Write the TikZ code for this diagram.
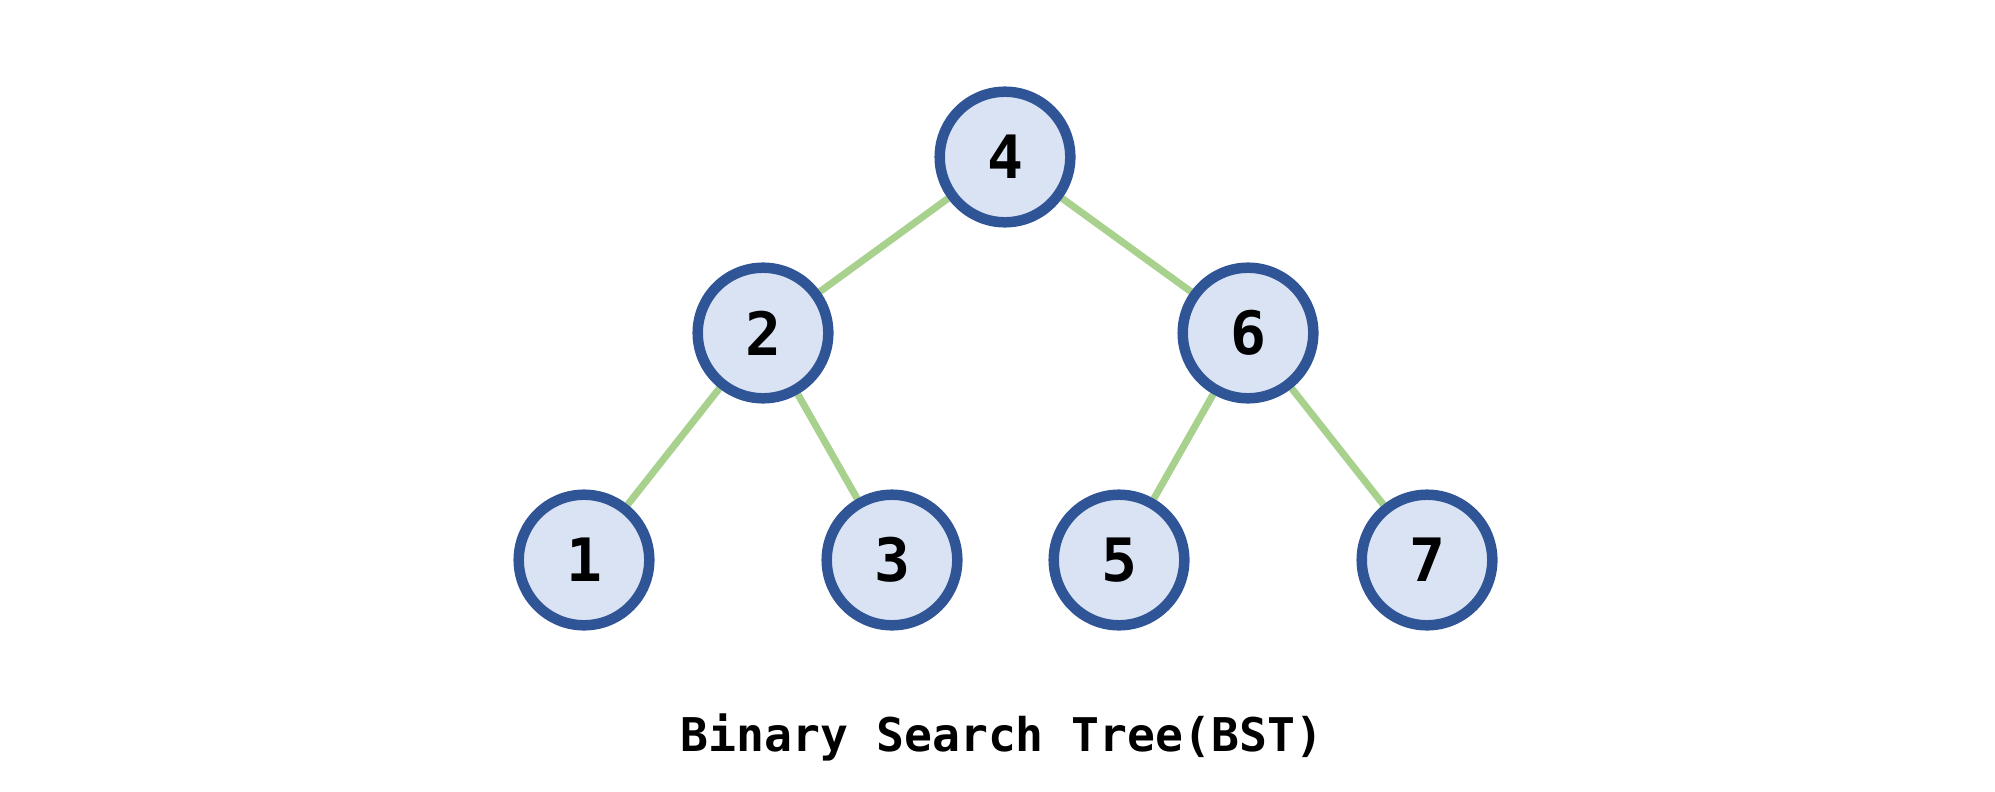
\documentclass[tikz,border=0pt]{standalone}
\usepackage{fontspec}
\setmonofont{DejaVu Sans Mono}
\usepackage{tikz}
\usetikzlibrary{positioning,backgrounds}
\definecolor{ringblue}{RGB}{47,85,151}
\definecolor{keyfill}{RGB}{218,227,243}
\definecolor{linkgreen}{RGB}{169,209,142}

\begin{document}
\begin{tikzpicture}[x=0.01cm,y=-0.01cm,
		key/.style={circle,draw=ringblue,line width=0.105cm,fill=keyfill,
				minimum size=1.305cm,inner sep=0pt,
				font=\ttfamily\bfseries\fontsize{17}{20}\selectfont},
		link/.style={linkgreen,line width=0.07cm}]
	\useasboundingbox (0,0) rectangle (1995,791);
	\node[key] (n4) at (1005,157) {4};
	\node[key] (n2) at (763,333) {2};
	\node[key] (n6) at (1248,333) {6};
	\node[key] (n1) at (584,560) {1};
	\node[key] (n3) at (892,560) {3};
	\node[key] (n5) at (1119,560) {5};
	\node[key] (n7) at (1427,560) {7};
	\begin{scope}[on background layer]
		\draw[link] (n4)--(n2);
		\draw[link] (n4)--(n6);
		\draw[link] (n2)--(n1);
		\draw[link] (n2)--(n3);
		\draw[link] (n6)--(n5);
		\draw[link] (n6)--(n7);
	\end{scope}
	\node[font=\ttfamily\bfseries\fontsize{13.2}{16}\selectfont] (title) at (1002,737)
	{Binary Search Tree(BST)};
\end{tikzpicture}
\end{document}
